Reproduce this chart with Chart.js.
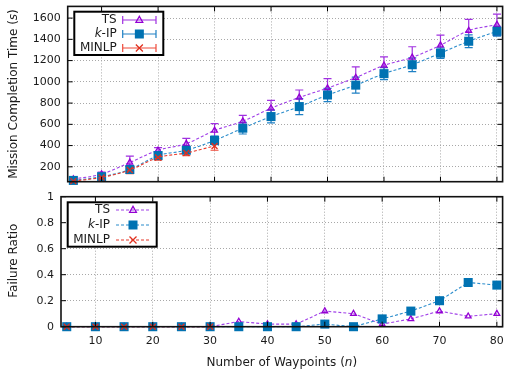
<!DOCTYPE html>
<html><head><meta charset="utf-8">
<script src="https://cdn.jsdelivr.net/npm/chart.js@4/dist/chart.umd.min.js"></script>
<style>
html,body{margin:0;padding:0;background:#fff;width:509px;height:375px;overflow:hidden}
#c1{position:absolute;left:0;top:0;width:509px;height:190px}
#c2{position:absolute;left:0;top:190px;width:509px;height:185px}
</style></head><body>
<div id="c1"><canvas id="topc"></canvas></div>
<div id="c2"><canvas id="botc"></canvas></div>
<script>
// ---- data ----
const waypoints = [5,10,15,20,25,30,35,40,45,50,55,60,65,70,75,80];
const tsTime     = [85,131,241,356,418,542,629,751,853,941,1040,1155,1230,1345,1482,1538];
const tsTimeErr  = [15,20,60,25,50,65,55,75,70,90,100,80,100,95,105,100];
const kipTime    = [72,107,175,306,356,449,564,673,767,876,969,1077,1161,1270,1382,1476];
const kipTimeErr = [10,15,25,30,30,40,55,60,75,63,75,56,65,50,60,47];
const minlpN       = [5,10,15,20,25,30];
const minlpTime    = [66,100,170,288,331,396];
const minlpTimeErr = [10,15,35,25,25,40];
const tsFail    = [0,0,0,0,0,0,0.04,0.02,0.02,0.12,0.10,0.02,0.06,0.12,0.08,0.10];
const kipFail   = [0,0,0,0,0,0,0,0,0,0.02,0,0.06,0.12,0.20,0.34,0.32];
const minlpFail = [0,0,0,0,0,0];
const xTicks = [10,20,30,40,50,60,70,80];
const timeTicks = [200,400,600,800,1000,1200,1400,1600];
const ratioTicks = [0,0.2,0.4,0.6,0.8,1];

const FONT = '"DejaVu Sans"';
const TXT = '#1a1a1a';
const C = {
  ts:   {line:'#a040e8', mark:'#9400d3', err:'#a030e0'},
  kip:  {line:'#2a8ccc', mark:'#0072b2', err:'#1f80c4'},
  minlp:{line:'#e8382a', mark:'#e0301e', err:'#ee4a3a'}
};

function pts(xs, ys){ return xs.map((x,i)=>({x:x, y:ys[i]})); }

function drawParts(ctx, parts, x, y, align, size){
  const fonts = parts.map(p => (p[1]?'italic ':'') + size + 'px ' + FONT);
  let total = 0;
  parts.forEach((p,i)=>{ ctx.font = fonts[i]; total += ctx.measureText(p[0]).width; });
  let cx = align === 'right' ? x - total : x - total/2;
  ctx.textAlign = 'left'; ctx.textBaseline = 'middle'; ctx.fillStyle = TXT;
  parts.forEach((p,i)=>{ ctx.font = fonts[i]; ctx.fillText(p[0], cx, y); cx += ctx.measureText(p[0]).width; });
}

function drawMarker(ctx, style, x, y, color){
  ctx.save();
  ctx.strokeStyle = color; ctx.fillStyle = color; ctx.lineWidth = 1.3;
  if (style === 'triangle'){
    ctx.beginPath(); ctx.moveTo(x, y-3.6); ctx.lineTo(x+3.4, y+2.3); ctx.lineTo(x-3.4, y+2.3); ctx.closePath(); ctx.stroke();
  } else if (style === 'rect'){
    ctx.fillRect(x-4.5, y-4.5, 9, 9);
  } else {
    ctx.beginPath(); ctx.moveTo(x-3.5,y-3.5); ctx.lineTo(x+3.5,y+3.5); ctx.moveTo(x+3.5,y-3.5); ctx.lineTo(x-3.5,y+3.5); ctx.stroke();
  }
  ctx.restore();
}

const decor = {
  id:'decor',
  beforeDatasetsDraw(chart){
    const ctx = chart.ctx, xs = chart.scales.x, ys = chart.scales.y, a = chart.chartArea;
    ctx.save();
    ctx.beginPath(); ctx.rect(a.left, a.top, a.right-a.left, a.bottom-a.top); ctx.clip();
    chart.data.datasets.forEach(ds => {
      if (!ds.errors) return;
      ctx.strokeStyle = ds.errorColor; ctx.lineWidth = 1.2;
      ds.data.forEach((p,j) => {
        const x = xs.getPixelForValue(p.x);
        const y1 = ys.getPixelForValue(p.y - ds.errors[j]);
        const y2 = ys.getPixelForValue(p.y + ds.errors[j]);
        ctx.beginPath();
        ctx.moveTo(x,y1); ctx.lineTo(x,y2);
        ctx.moveTo(x-4,y1); ctx.lineTo(x+4,y1);
        ctx.moveTo(x-4,y2); ctx.lineTo(x+4,y2);
        ctx.stroke();
      });
    });
    ctx.restore();
  },
  afterDraw(chart, args, o){
    const ctx = chart.ctx, a = chart.chartArea, xs = chart.scales.x, ys = chart.scales.y;
    ctx.save();
    // inner ticks
    ctx.strokeStyle = '#000'; ctx.lineWidth = 1;
    ctx.beginPath();
    xTicks.forEach(v => { const x = xs.getPixelForValue(v);
      ctx.moveTo(x, a.bottom); ctx.lineTo(x, a.bottom-5);
      ctx.moveTo(x, a.top); ctx.lineTo(x, a.top+5); });
    o.yTicks.forEach(v => { const y = ys.getPixelForValue(v);
      ctx.moveTo(a.left, y); ctx.lineTo(a.left+5, y);
      ctx.moveTo(a.right, y); ctx.lineTo(a.right-5, y); });
    ctx.stroke();
    // border
    ctx.lineWidth = 1.6; ctx.strokeStyle = '#111';
    ctx.strokeRect(a.left, a.top, a.right-a.left, a.bottom-a.top);
    // titles
    ctx.save();
    ctx.translate(o.yTitleX, (a.top+a.bottom)/2 + o.yTitleDy);
    ctx.rotate(-Math.PI/2);
    drawParts(ctx, o.yTitle, 0, 0, 'center', 12);
    ctx.restore();
    if (o.xTitle) drawParts(ctx, o.xTitle, (a.left+a.right)/2, o.xTitleY, 'center', 12);
    // legend
    const L = o.legend;
    ctx.fillStyle = '#fff';
    ctx.fillRect(L.x0, L.y0, L.x1-L.x0, L.y1-L.y0);
    ctx.lineWidth = 2; ctx.strokeStyle = '#000';
    ctx.strokeRect(L.x0, L.y0, L.x1-L.x0, L.y1-L.y0);
    chart.data.datasets.forEach(ds => {
      const e = ds.legendInfo; const y = e.y;
      drawParts(ctx, e.parts, L.textRight, y, 'right', 12);
      ctx.save();
      if (L.errStyle){
        ctx.strokeStyle = ds.errorColor; ctx.lineWidth = 1.2;
        ctx.beginPath();
        ctx.moveTo(L.s0, y); ctx.lineTo(L.s1, y);
        ctx.moveTo(L.s0, y-4); ctx.lineTo(L.s0, y+4);
        ctx.moveTo(L.s1, y-4); ctx.lineTo(L.s1, y+4);
        ctx.stroke();
      } else {
        ctx.strokeStyle = ds.borderColor; ctx.lineWidth = 1.2; ctx.setLineDash([3,2]);
        ctx.beginPath(); ctx.moveTo(L.s0, y); ctx.lineTo(L.s1, y); ctx.stroke();
      }
      ctx.restore();
      drawMarker(ctx, ds.pointStyle, (L.s0+L.s1)/2, y, ds.pointBorderColor);
    });
    ctx.restore();
  }
};
Chart.register(decor);

function mkDs(label, key, xsArr, ysArr, errs, style, legendY, parts, smooth, order){
  const c = C[key];
  return {
    label: label, data: pts(xsArr, ysArr), errors: errs, errorColor: c.err,
    borderColor: c.line, borderWidth: 1.1, borderDash: [3,2],
    pointStyle: style,
    pointRadius: style === 'rect' ? 6.4 : (style === 'triangle' ? 3.3 : 4.2),
    pointBorderColor: c.mark,
    pointBackgroundColor: style === 'rect' ? c.mark : 'rgba(0,0,0,0)',
    pointBorderWidth: style === 'rect' ? 0 : 1.3,
    tension: smooth ? 0.4 : 0, cubicInterpolationMode: smooth ? 'monotone' : 'default',
    fill: false, order: order, clip: false,
    legendInfo: {y: legendY, parts: parts}
  };
}

const gridOpt = {color:'#a8a8a8', lineWidth:1, drawTicks:false};
const borderOpt = {display:false, dash:[1,2]};
const tickFont = {family:'DejaVu Sans', size:11};
const plainNum = v => String(v);
function fixSize(dim, val){
  return s => { s[dim] = val; s.paddingLeft = 0; s.paddingRight = 0; s.paddingTop = 0; s.paddingBottom = 0; };
}

new Chart(document.getElementById('topc'), {
  type:'line',
  data:{datasets:[
    mkDs('TS','ts',waypoints,tsTime,tsTimeErr,'triangle',20,[['TS',false]],true,2),
    mkDs('k-IP','kip',waypoints,kipTime,kipTimeErr,'rect',34,[['k',true],['-IP',false]],true,1),
    mkDs('MINLP','minlp',minlpN,minlpTime,minlpTimeErr,'crossRot',48,[['MINLP',false]],true,0)
  ]},
  options:{
    responsive:true, maintainAspectRatio:false, animation:false,
    layout:{padding:{left:0,right:2.3,top:5,bottom:8.3}},
    plugins:{legend:{display:false}, tooltip:{enabled:false},
      decor:{yTicks: timeTicks, yTitle:[['Mission Completion Time (',false],['s',true],[')',false]], yTitleX:14, yTitleDy:0,
        legend:{x0:74.3,y0:11.7,x1:163.3,y1:55,textRight:116.7,s0:122.7,s1:156,errStyle:true}}},
    scales:{
      x:{type:'linear', min:4, max:81,
        afterBuildTicks: s => { s.ticks = xTicks.map(v=>({value:v})); },
        ticks:{display:false}, grid:gridOpt, border:borderOpt,
        afterFit: fixSize('height', 0)},
      y:{type:'linear', min:60, max:1710,
        afterBuildTicks: s => { s.ticks = timeTicks.map(v=>({value:v})); },
        ticks:{font:tickFont, color:TXT, padding:7, callback:plainNum}, grid:gridOpt, border:borderOpt,
        afterFit: fixSize('width', 67.7)}
    }
  }
});

new Chart(document.getElementById('botc'), {
  type:'line',
  data:{datasets:[
    mkDs('TS','ts',waypoints,tsFail,null,'triangle',20,[['TS',false]],false,2),
    mkDs('k-IP','kip',waypoints,kipFail,null,'rect',35,[['k',true],['-IP',false]],false,1),
    mkDs('MINLP','minlp',minlpN,minlpFail,null,'crossRot',50,[['MINLP',false]],false,0)
  ]},
  options:{
    responsive:true, maintainAspectRatio:false, animation:false,
    layout:{padding:{left:0,right:1.7,top:6.7,bottom:0}},
    plugins:{legend:{display:false}, tooltip:{enabled:false},
      decor:{yTicks: ratioTicks, yTitle:[['Failure Ratio',false]], yTitleX:14, yTitleDy:-1,
        xTitle:[['Number of Waypoints (',false],['n',true],[')',false]], xTitleY:173.3,
        legend:{x0:67.7,y0:12.3,x1:156.7,y1:56.7,textRight:110,s0:116,s1:150,errStyle:false}}},
    scales:{
      x:{type:'linear', min:4, max:81,
        afterBuildTicks: s => { s.ticks = xTicks.map(v=>({value:v})); },
        ticks:{font:tickFont, color:TXT, padding:8, callback:plainNum}, grid:gridOpt, border:borderOpt,
        afterFit: fixSize('height', 48.3)},
      y:{type:'linear', min:0, max:1,
        afterBuildTicks: s => { s.ticks = ratioTicks.map(v=>({value:v})); },
        ticks:{font:tickFont, color:TXT, padding:7, callback:plainNum}, grid:gridOpt, border:borderOpt,
        afterFit: fixSize('width', 61)}
    }
  }
});
</script>
</body></html>
